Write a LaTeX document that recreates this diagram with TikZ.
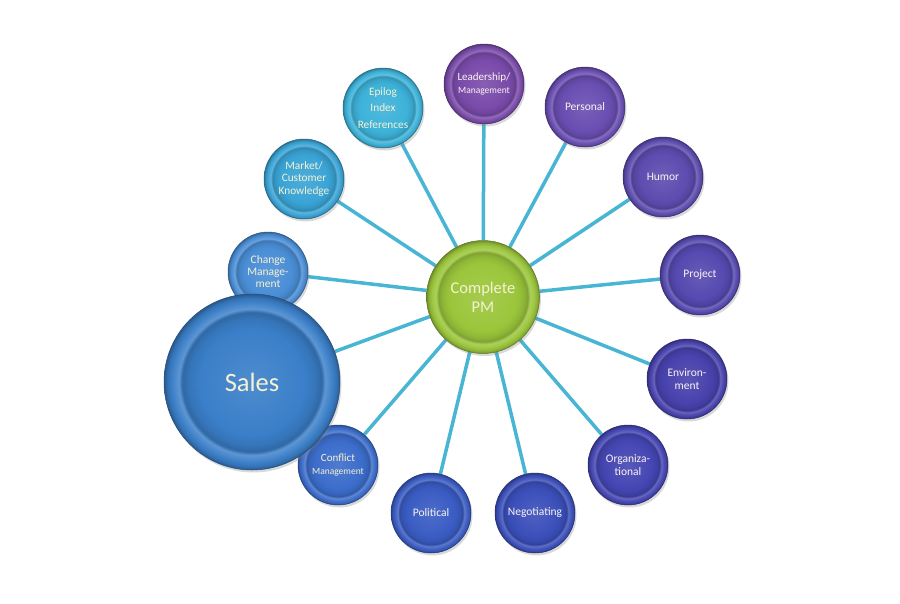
\documentclass[tikz,border=0pt]{standalone}
\usepackage{fontspec}
\setmainfont{Carlito}
\usetikzlibrary{shadows,backgrounds}

% colours
\definecolor{linkblue}{HTML}{47B5D3}
\definecolor{cream}{HTML}{F6F1D2}
\definecolor{snow}{HTML}{FBF3F0}
\definecolor{pmgreen}{HTML}{9BC63B}
\definecolor{salesblue}{HTML}{3A7FC9}
\definecolor{c1}{HTML}{4A8ED6}
\definecolor{c2}{HTML}{3AA4D6}
\definecolor{c3}{HTML}{3DB2D9}
\definecolor{c4}{HTML}{7A4BAA}
\definecolor{c5}{HTML}{6A4EB2}
\definecolor{c6}{HTML}{5E4CAF}
\definecolor{c7}{HTML}{5649B0}
\definecolor{c8}{HTML}{4842AD}
\definecolor{c9}{HTML}{4546B3}
\definecolor{c10}{HTML}{3B4FBA}
\definecolor{c11}{HTML}{3A5CC3}
\definecolor{c12}{HTML}{3C6DCB}

% the node edge sits at 25bp
\colorlet{beadcol}{c1}
\pgfdeclareradialshading[beadcol]{bead}{\pgfpoint{0bp}{0bp}}{%
  color(0bp)=(beadcol!90!white);
  color(15bp)=(beadcol);
  color(18bp)=(beadcol!92!black);
  color(19.8bp)=(beadcol!82!black);
  color(20.8bp)=(beadcol!82!white);
  color(22.5bp)=(beadcol!96!white);
  color(24bp)=(beadcol!90!black);
  color(25bp)=(beadcol!70!black);
  color(50bp)=(beadcol!70!black)}

\begin{document}
\begin{tikzpicture}[
    x=1pt, y=-1pt,
    bead/.style={circle, inner sep=0pt, minimum size=80pt, align=center,
      /utils/exec={\colorlet{beadcol}{#1}}, shade, shading=bead,
      draw=#1!60!black, line width=0.5pt,
      drop shadow={opacity=0.3, shadow xshift=1.5pt, shadow yshift=-2.5pt},
      text=cream, font=\fontsize{11.5}{13}\selectfont},
    violet bead/.style={bead=#1, text=snow},
    link/.style={draw=linkblue, line width=3.5pt}
    ]
  \useasboundingbox (0,0) rectangle (900,603);

  % hub
  \node[bead=pmgreen, minimum size=113pt, font=\fontsize{16.5}{19}\selectfont] (pm) at (483,297) {Complete\\PM};

  % ring, clockwise from the left
  \node[bead=c1, font=\fontsize{11.5}{12}\selectfont] (change) at (268,272) {Change\\Manage-\\ment};
  \node[bead=c2, font=\fontsize{11.3}{12.5}\selectfont] (market) at (304,179) {Market/\\Customer\\Knowledge};
  \node[bead=c3, font=\fontsize{11.3}{12.5}\selectfont] (epilog) at (383,108) {Epilog\\[4pt]Index\\[4pt]References};
  \node[violet bead=c4, font=\fontsize{11}{13}\selectfont] (leader) at (484,84) {Leadership/\\{\fontsize{9.5}{11}\selectfont Management}};
  \node[violet bead=c5] (personal) at (585,107) {Personal};
  \node[violet bead=c6] (humor) at (663,177) {Humor};
  \node[violet bead=c7] (project) at (700,275) {Project};
  \node[violet bead=c8] (environ) at (687,379) {Environ-\\ment};
  \node[violet bead=c9] (organiz) at (628,465) {Organiza-\\tional};
  \node[violet bead=c10] (negot) at (535,513) {Negotiating};
  \node[violet bead=c11] (political) at (431,513) {Political};
  \node[bead=c12, font=\fontsize{11}{13}\selectfont] (conflict) at (338,465) {Conflict\\{\fontsize{9.5}{11}\selectfont Management}};

  % big one on top
  \node[bead=salesblue, minimum size=176pt, font=\fontsize{26.5}{30}\selectfont] (sales) at (252,382) {Sales};

  \begin{scope}[on background layer]
    \foreach \n in {change,market,epilog,leader,personal,humor,project,
                    environ,organiz,negot,political,conflict,sales}
      \draw[link] (pm) -- (\n);
  \end{scope}
\end{tikzpicture}
\end{document}
